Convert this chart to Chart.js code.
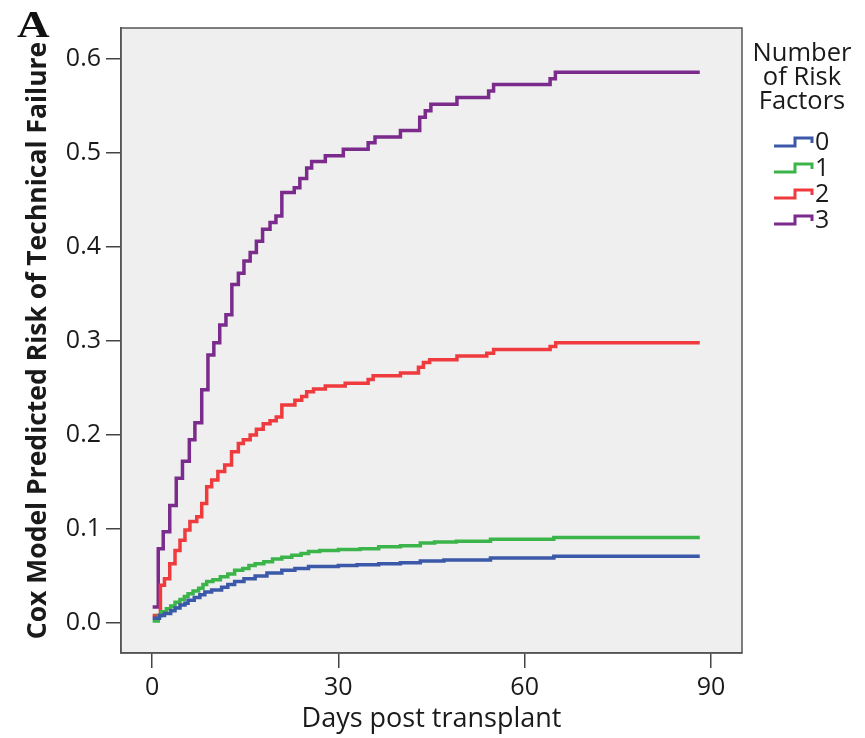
<!DOCTYPE html>
<html>
<head>
<meta charset="utf-8">
<script src="https://cdn.jsdelivr.net/npm/chart.js@4.4.0/dist/chart.umd.min.js"></script>
<style>
  html, body { margin: 0; padding: 0; background: #ffffff; }
  #wrap { width: 865px; height: 738px; }
</style>
</head>
<body>
<div id="wrap"><canvas id="c" width="865" height="738"></canvas></div>
<script>
// Predicted cumulative risk of technical failure by number of risk factors.
// Each series is [day, risk] at the times the step function changes.
const factorLabels = ['0', '1', '2', '3'];
const factorColors = ['#3b59a8', '#3bb54a', '#ef3a3e', '#7b2b8b'];

const risk0 = [[0.1,0.005],[1.2,0.008],[2.0,0.010],[3.0,0.013],[3.7,0.016],[4.5,0.019],[5.3,0.021],
  [5.8,0.024],[6.8,0.027],[7.7,0.030],[8.5,0.033],[9.6,0.035],[11.2,0.038],[12.2,0.041],[13.3,0.044],
  [14.8,0.047],[16.6,0.050],[18.5,0.053],[20.9,0.056],[23.0,0.058],[25.2,0.060],[30.0,0.061],
  [33.0,0.062],[36.5,0.063],[40.0,0.064],[43.2,0.066],[47.0,0.067],[54.5,0.069],[64.7,0.071],[88.2,0.071]];

const risk1 = [[0.1,0.002],[1.0,0.008],[1.5,0.012],[2.3,0.015],[3.0,0.018],[3.7,0.022],[4.5,0.025],
  [5.2,0.028],[5.8,0.031],[6.6,0.034],[7.5,0.037],[8.2,0.041],[8.8,0.044],[9.8,0.046],[11.0,0.049],
  [12.2,0.052],[13.3,0.056],[14.6,0.058],[15.6,0.061],[16.6,0.063],[18.0,0.065],[19.4,0.068],
  [20.9,0.070],[22.5,0.072],[24.0,0.074],[25.2,0.076],[27.0,0.077],[30.0,0.078],[33.5,0.079],
  [36.5,0.081],[40.0,0.082],[43.2,0.085],[45.5,0.086],[49.0,0.087],[54.5,0.089],[64.7,0.091],[88.2,0.091]];

const risk2 = [[0.1,0.008],[1.35,0.040],[2.0,0.047],[2.85,0.063],[3.7,0.077],[4.5,0.088],[5.3,0.099],
  [6.1,0.108],[7.2,0.113],[8.0,0.127],[8.8,0.145],[9.6,0.152],[10.6,0.161],[11.7,0.168],[12.8,0.182],
  [13.9,0.191],[14.7,0.195],[15.8,0.200],[16.8,0.206],[17.9,0.212],[19.0,0.215],[20.0,0.219],
  [20.9,0.232],[23.0,0.237],[24.1,0.241],[24.9,0.246],[26.0,0.249],[27.9,0.252],[31.1,0.255],
  [34.8,0.259],[35.6,0.263],[40.0,0.266],[42.9,0.272],[43.7,0.277],[44.7,0.280],[49.1,0.284],
  [53.9,0.287],[55.0,0.291],[64.1,0.294],[65.0,0.298],[88.2,0.298]];

const risk3 = [[0.1,0.017],[1.0,0.079],[1.8,0.097],[2.85,0.125],[3.9,0.154],[4.9,0.172],[6.0,0.195],
  [6.9,0.213],[8.0,0.248],[9.0,0.285],[9.95,0.298],[10.9,0.317],[11.9,0.328],[12.85,0.360],
  [13.9,0.372],[14.8,0.385],[15.8,0.394],[16.8,0.406],[17.8,0.419],[19.0,0.426],[19.95,0.433],
  [20.9,0.458],[22.9,0.463],[23.8,0.473],[24.9,0.484],[25.7,0.491],[27.9,0.497],[30.8,0.504],
  [34.8,0.511],[35.9,0.517],[40.0,0.524],[43.1,0.538],[44.0,0.545],[44.9,0.552],[49.1,0.559],
  [54.2,0.566],[55.0,0.573],[64.1,0.579],[64.95,0.586],[88.2,0.586]];

const xTickValues = [0, 30, 60, 90];
const yTickValues = [0, 0.1, 0.2, 0.3, 0.4, 0.5, 0.6];

const seriesData = [risk0, risk1, risk2, risk3];
const FONT = "'Open Sans', 'DejaVu Sans', sans-serif";

// Grey panel behind the curves and a frame around it.
const panelPlugin = {
  id: 'panel',
  beforeDraw(chart) {
    const { ctx, chartArea: a } = chart;
    ctx.save();
    ctx.fillStyle = '#efefef';
    ctx.fillRect(a.left, a.top, a.right - a.left, a.bottom - a.top);
    ctx.restore();
  },
  afterDraw(chart) {
    const { ctx, chartArea: a } = chart;
    ctx.save();
    ctx.strokeStyle = '#555555';
    ctx.lineWidth = 1.5;
    ctx.strokeRect(a.left, a.top, a.right - a.left, a.bottom - a.top);
    ctx.restore();
  }
};

// Step-shaped legend to the right of the panel, plus the panel letter.
const sideLegendPlugin = {
  id: 'sideLegend',
  afterDraw(chart) {
    const { ctx } = chart;
    ctx.save();
    ctx.fillStyle = '#1a1a1a';
    ctx.textAlign = 'center';
    ctx.textBaseline = 'alphabetic';
    ctx.font = '25.5px ' + FONT;
    const titleLines = ['Number', 'of Risk', 'Factors'];
    titleLines.forEach((t, i) => ctx.fillText(t, 802, 61 + i * 24));

    chart.data.datasets.forEach((ds, i) => {
      const cy = 142 + i * 26;
      ctx.strokeStyle = ds.borderColor;
      ctx.lineWidth = 3;
      ctx.lineJoin = 'miter';
      ctx.beginPath();
      ctx.moveTo(774, cy + 4);
      ctx.lineTo(795, cy + 4);
      ctx.lineTo(795, cy - 4);
      ctx.lineTo(812, cy - 4);
      ctx.lineTo(812, cy + 1);
      ctx.stroke();
      ctx.fillStyle = '#1a1a1a';
      ctx.textAlign = 'left';
      ctx.textBaseline = 'middle';
      ctx.font = '25px ' + FONT;
      ctx.fillText(ds.label, 815, cy + 1);
    });

    ctx.fillStyle = '#111';
    ctx.textAlign = 'left';
    ctx.textBaseline = 'alphabetic';
    ctx.font = "bold 37px 'Liberation Serif', 'DejaVu Serif', serif";
    ctx.translate(17, 37);
    ctx.scale(1.22, 1);
    ctx.fillText('A', 0, 0);
    ctx.restore();
  }
};

new Chart(document.getElementById('c'), {
  type: 'line',
  data: {
    datasets: seriesData.map((s, i) => ({
      label: factorLabels[i],
      data: s.map(p => ({ x: p[0], y: p[1] })),
      borderColor: factorColors[i],
      backgroundColor: factorColors[i],
      borderWidth: 3.5,
      stepped: true,
      pointRadius: 0,
      fill: false
    }))
  },
  options: {
    responsive: false,
    devicePixelRatio: 1,
    animation: false,
    events: [],
    layout: { padding: { top: 28, right: 123, left: 0, bottom: 0 } },
    plugins: {
      legend: { display: false },
      tooltip: { enabled: false }
    },
    scales: {
      x: {
        type: 'linear',
        min: -5,
        max: 95,
        afterBuildTicks: s => { s.ticks = xTickValues.map(v => ({ value: v })); },
        afterFit: s => { s.height = 85; },
        grid: { drawOnChartArea: false, drawTicks: true, tickLength: 15, color: '#444', lineWidth: 1.5 },
        border: { display: true, color: '#555555', width: 1.5 },
        ticks: { color: '#1a1a1a', font: { family: FONT, size: 25 }, padding: 5, maxRotation: 0,
                 callback: v => String(v) },
        title: { display: true, text: 'Days post transplant', color: '#1a1a1a',
                 font: { family: FONT, size: 27 }, padding: { top: 0, bottom: 2 } }
      },
      y: {
        type: 'linear',
        min: -0.032,
        max: 0.633,
        afterBuildTicks: s => { s.ticks = yTickValues.map(v => ({ value: v })); },
        afterFit: s => { s.width = 121; },
        grid: { drawOnChartArea: false, drawTicks: true, tickLength: 15, color: '#444', lineWidth: 1.5 },
        border: { display: true, color: '#555555', width: 1.5 },
        ticks: { color: '#1a1a1a', font: { family: FONT, size: 25 }, padding: 5,
                 callback: v => Number(v).toFixed(1) },
        title: { display: true, text: 'Cox Model Predicted Risk of Technical Failure', color: '#1a1a1a',
                 font: { family: FONT, size: 26.5, weight: 'bold' }, padding: { top: 23, bottom: 0 } }
      }
    }
  },
  plugins: [panelPlugin, sideLegendPlugin]
});
</script>
</body>
</html>
